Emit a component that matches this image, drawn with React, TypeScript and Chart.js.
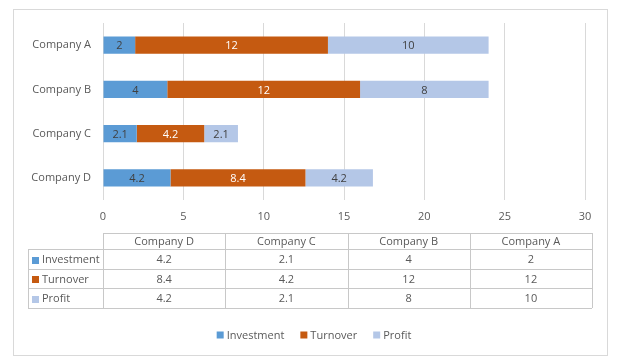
import React, { useEffect, useRef } from "react";
import { Chart, registerables } from "chart.js";

Chart.register(...registerables);

const categories = ["Company A", "Company B", "Company C", "Company D"];
const investment = [2, 4, 2.1, 4.2];
const turnover = [12, 12, 4.2, 8.4];
const profit = [10, 8, 2.1, 4.2];
const seriesNames = ["Investment", "Turnover", "Profit"];
const seriesColors = ["#5B9BD5", "#C55A11", "#B4C7E7"];
const labelColors = ["#404040", "#FFFFFF", "#404040"];
const xTicks = [0, 5, 10, 15, 20, 25, 30];

const FONT = "'Open Sans', 'Noto Sans', sans-serif";
const FS = 11;
const TEXT = "#595959";
const GRID = "#D9D9D9";

const overlayPlugin = {
  id: "overlay",
  afterDatasetsDraw(chart: any) {
    const ctx = chart.ctx;
    ctx.save();
    ctx.font = `${FS}px ${FONT}`;
    ctx.textAlign = "center";
    ctx.textBaseline = "middle";
    chart.data.datasets.forEach((ds: any, di: number) => {
      const meta = chart.getDatasetMeta(di);
      meta.data.forEach((bar: any, i: number) => {
        const v = ds.data[i];
        const x = (bar.x + bar.base) / 2;
        ctx.fillStyle = labelColors[di];
        ctx.fillText(String(v), x, bar.y + 1);
      });
    });
    ctx.restore();
  },
  afterDraw(chart: any) {
    const ctx = chart.ctx;
    const area = chart.chartArea;
    ctx.save();
    // outer frame
    ctx.strokeStyle = GRID;
    ctx.lineWidth = 1;
    ctx.strokeRect(13.5, 9.5, 594, 346);

    // data table
    const left = 28;
    const colStart = area.left;
    const right = area.right + 7;
    const colW = (right - colStart) / categories.length;
    const rowTops = [233, 249, 269, 288, 308];
    const order = categories.slice().reverse();
    const rows = [investment, turnover, profit].map((arr) => arr.slice().reverse());
    ctx.strokeStyle = "#C8C8C8";
    ctx.beginPath();
    ctx.moveTo(colStart, rowTops[0] + 0.5);
    ctx.lineTo(right, rowTops[0] + 0.5);
    for (let r = 1; r < rowTops.length; r++) {
      ctx.moveTo(left, rowTops[r] + 0.5);
      ctx.lineTo(right, rowTops[r] + 0.5);
    }
    ctx.moveTo(left + 0.5, rowTops[1]);
    ctx.lineTo(left + 0.5, rowTops[4]);
    for (let c = 0; c <= categories.length; c++) {
      const x = Math.round(colStart + c * colW) + 0.5;
      ctx.moveTo(x, rowTops[0]);
      ctx.lineTo(x, rowTops[4]);
    }
    ctx.stroke();

    ctx.font = `${FS}px ${FONT}`;
    ctx.textBaseline = "middle";
    ctx.fillStyle = TEXT;
    ctx.textAlign = "center";
    order.forEach((name, c) => {
      ctx.fillText(name, colStart + (c + 0.5) * colW, (rowTops[0] + rowTops[1]) / 2 + 1);
    });
    rows.forEach((vals, r) => {
      const cy = (rowTops[r + 1] + rowTops[r + 2]) / 2 + 1;
      ctx.fillStyle = seriesColors[r];
      ctx.fillRect(left + 4, Math.round(cy - 3.5), 7, 7);
      ctx.fillStyle = TEXT;
      ctx.textAlign = "left";
      ctx.fillText(seriesNames[r], left + 14, cy);
      ctx.textAlign = "center";
      vals.forEach((v, c) => {
        ctx.fillText(String(v), colStart + (c + 0.5) * colW, cy);
      });
    });

    // legend
    const ly = 335;
    ctx.textAlign = "left";
    const gap = 16;
    const widths = seriesNames.map((n) => 10 + ctx.measureText(n).width);
    const total = widths.reduce((a, b) => a + b, 0) + gap * (seriesNames.length - 1);
    let lx = 314 - total / 2;
    seriesNames.forEach((n, i) => {
      ctx.fillStyle = seriesColors[i];
      ctx.fillRect(lx, ly - 3.5, 7, 7);
      ctx.fillStyle = TEXT;
      ctx.fillText(n, lx + 10, ly + 1);
      lx += widths[i] + gap;
    });
    ctx.restore();
  },
};

export default function App() {
  const ref = useRef<HTMLCanvasElement>(null);
  useEffect(() => {
    if (!ref.current) return;
    const chart = new Chart(ref.current, {
      type: "bar",
      data: {
        labels: categories,
        datasets: [investment, turnover, profit].map((d, i) => ({
          label: seriesNames[i],
          data: d,
          backgroundColor: seriesColors[i],
          borderWidth: 0,
          categoryPercentage: 1,
          barPercentage: 0.39,
        })),
      },
      options: {
        indexAxis: "y",
        animation: false,
        responsive: false,
        layout: { padding: { left: 0, right: 56, top: 23, bottom: 132 } },
        plugins: { legend: { display: false }, tooltip: { enabled: false } },
        scales: {
          x: {
            stacked: true,
            min: 0,
            max: 30,
            afterBuildTicks: (scale: any) => {
              scale.ticks = xTicks.map((v) => ({ value: v }));
            },
            afterFit: (scale: any) => {
              scale.height = 30;
            },
            grid: { color: GRID, drawTicks: false },
            border: { display: false },
            ticks: { color: TEXT, font: { family: FONT, size: FS }, padding: 10 },
          },
          y: {
            stacked: true,
            afterFit: (scale: any) => {
              scale.width = 103;
            },
            grid: { display: false, drawTicks: false },
            border: { display: false },
            ticks: { color: TEXT, font: { family: FONT, size: FS }, padding: 12 },
          },
        },
      },
      plugins: [overlayPlugin],
    } as any);
    return () => chart.destroy();
  }, []);
  return (
    <div style={{ position: "fixed", left: 0, top: 0, width: 641, height: 362, background: "#fff" }}>
      <canvas ref={ref} width={641} height={362} style={{ width: 641, height: 362 }} />
    </div>
  );
}
